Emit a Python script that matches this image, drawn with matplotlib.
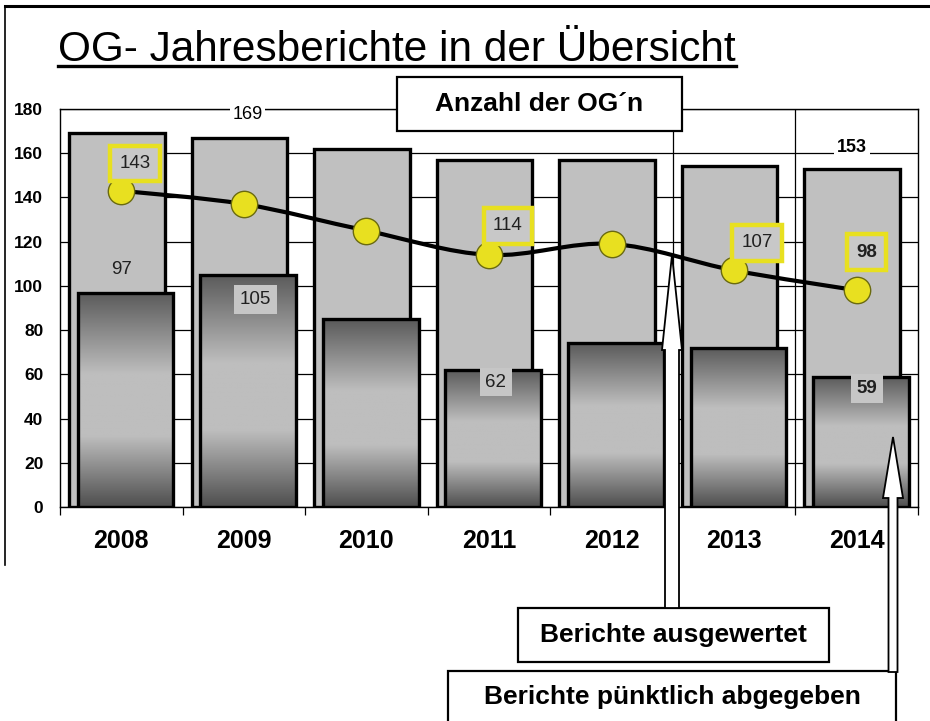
import numpy as np
import matplotlib
matplotlib.use('Agg')
from matplotlib import pyplot as plt
from matplotlib.colors import LinearSegmentedColormap
from matplotlib.lines import Line2D
from matplotlib.patches import PathPatch, Polygon, Rectangle
from matplotlib.path import Path

plt.rcParams['font.family'] = ['Liberation Sans', 'DejaVu Sans']

years = ['2008', '2009', '2010', '2011', '2012', '2013', '2014']
og_count = [169, 167, 162, 157, 157, 154, 153]    # Anzahl der OG'n
evaluated = [143, 137, 125, 114, 119, 107, 98]     # Berichte ausgewertet
on_time = [97, 105, 85, 62, 74, 72, 59]            # Berichte puenktlich abgegeben

# which values carry a label: (index, dx, dy) offsets from the mark
og_labels = [(0, 1.03, 8.3), (6, -0.04, 9.8)]
eval_labels = [(0, 0.11, 12.4), (3, 0.155, 13.1), (5, 0.19, 12.5), (6, 0.08, 17.3)]
ontime_labels = [(0, 0.0, 10.2), (1, 0.096, -11.2), (3, 0.057, -5.5), (6, 0.08, -5.4)]

W, H = 930, 721


def fx(px):
    return px / W


def fy(py):
    return 1 - py / H


def main():
    fig = plt.figure(figsize=(W / 100, H / 100), dpi=100)
    ax = fig.add_axes([fx(60), fy(507), (918 - 60) / W, (507 - 109) / H])

    x = np.arange(len(years))
    width = 0.78

    # grid
    ax.set_yticks(range(0, 181, 20))
    ax.yaxis.grid(True, color='black', lw=0.9)
    ax.set_axisbelow(True)
    for xv in (4.5, 5.5):
        ax.axvline(xv, color='black', lw=0.9, zorder=0.5)

    # back bars
    ax.bar(x - 0.037, og_count, width, color='#c0c0c0',
           edgecolor='black', lw=2.4, zorder=2)

    # front bars with vertical gradient
    cmap = LinearSegmentedColormap.from_list(
        'bar', [(0, '#4e4e4e'), (0.33, '#bebebe'), (0.62, '#bebebe'), (1, '#5a5a5a')])
    grad = np.linspace(0, 1, 256).reshape(-1, 1)
    bars = ax.bar(x + 0.035, on_time, width, color='none',
                  edgecolor='black', lw=2.4, zorder=4)
    for b in bars:
        x0 = b.get_x()
        im = ax.imshow(grad, extent=[x0, x0 + b.get_width(), 0, b.get_height()],
                       origin='lower', aspect='auto', cmap=cmap, zorder=3)
        im.set_clip_path(b)

    # smoothed line through evaluated reports
    pts = np.column_stack([x, evaluated]).astype(float)
    n = len(pts)
    verts = [pts[0]]
    codes = [Path.MOVETO]
    for i in range(n - 1):
        p0 = pts[max(i - 1, 0)]
        p1 = pts[i]
        p2 = pts[i + 1]
        p3 = pts[min(i + 2, n - 1)]
        verts += [p1 + (p2 - p0) / 6, p2 - (p3 - p1) / 6, p2]
        codes += [Path.CURVE4] * 3
    ax.add_patch(PathPatch(Path(verts, codes), fc='none', ec='black',
                           lw=3.0, zorder=5))
    ax.plot(x, evaluated, 'o', ms=19, mfc='#e8e020', mec='#6a6a10',
            mew=1.0, zorder=6)

    # labels
    for i, dx, dy in og_labels:
        ax.text(i + dx, og_count[i] + dy, str(og_count[i]), ha='center',
                va='center', fontsize=13, weight='bold' if i == 6 else 'normal',
                zorder=7, bbox=dict(boxstyle='square,pad=0.15', fc='white', ec='none'))
    for i, dx, dy in eval_labels:
        ax.text(i + dx, evaluated[i] + dy, str(evaluated[i]), ha='center',
                va='center', fontsize=13.5, color='#202020',
                weight='bold' if i == 6 else 'normal', zorder=8,
                bbox=dict(boxstyle='square,pad=0.5', fc='#c8c8c8',
                          ec='#e8e020', lw=3.2))
    for i, dx, dy in ontime_labels:
        box = None if i == 0 else dict(boxstyle='square,pad=0.3', fc='#c6c6c6', ec='none')
        ax.text(i + dx, on_time[i] + dy, str(on_time[i]), ha='center',
                va='center', fontsize=13.5, color='#202020',
                weight='bold' if i == 6 else 'normal', zorder=7, bbox=box)

    ax.set_xlim(-0.5, 6.5)
    ax.set_ylim(0, 180)
    ax.set_xticks(x)
    ax.set_xticklabels(years, fontsize=18, weight='bold')
    ax.set_xticks(np.arange(-0.5, 7, 1), minor=True)
    ax.tick_params(axis='x', which='major', length=0, pad=16)
    ax.tick_params(axis='x', which='minor', length=6, width=0.9, direction='out')
    ax.tick_params(axis='y', length=0, pad=12, labelsize=12.5)
    for lab in ax.get_yticklabels():
        lab.set_fontweight('bold')
    for sp in ax.spines.values():
        sp.set_linewidth(1.0)

    # slide frame
    fig.add_artist(Line2D([fx(5), fx(930)], [fy(6), fy(6)], color='black', lw=2.2))
    fig.add_artist(Line2D([fx(5), fx(5)], [fy(6), fy(565)], color='black', lw=1.2))

    # title with underline
    title = fig.text(fx(58), fy(61), 'OG- Jahresberichte in der Übersicht',
                     fontsize=30.5, va='baseline', ha='left')
    fig.canvas.draw()
    bb = title.get_window_extent().transformed(fig.transFigure.inverted())
    fig.add_artist(Line2D([bb.x0, bb.x1], [fy(66), fy(66)], color='black', lw=2.4))

    # callout boxes
    boxes = [
        ('Anzahl der OG´n', 397, 77, 682, 131),
        ('Berichte ausgewertet', 518, 608, 829, 662),
        ('Berichte pünktlich abgegeben', 448, 671, 896, 740),
    ]
    for label, x0, y0, x1, y1 in boxes:
        fig.add_artist(Rectangle((fx(x0), fy(y1)), fx(x1) - fx(x0), (y1 - y0) / H,
                                 transform=fig.transFigure, fc='white', ec='black',
                                 lw=1.6, zorder=6))
        yc = (y0 + y1) / 2 if y1 < 721 else y0 + 26
        fig.text(fx((x0 + x1) / 2), fy(yc), label, ha='center', va='center',
                 fontsize=19, weight='bold', zorder=7)

    # block arrows from the boxes up into the chart
    arrows = [
        (672, 255, 350, 10, 7, 608),
        (893, 437, 498, 10, 4.5, 672),
    ]
    for tx, ty, hb, hw, sw, bot in arrows:
        pts_px = [(tx, ty), (tx + hw, hb), (tx + sw, hb), (tx + sw, bot),
                  (tx - sw, bot), (tx - sw, hb), (tx - hw, hb)]
        fig.add_artist(Polygon([(fx(a), fy(b)) for a, b in pts_px], closed=True,
                               transform=fig.transFigure, fc='white', ec='black',
                               lw=1.3, zorder=6))

    plt.savefig('out.png', dpi=100)


if __name__ == '__main__':
    main()
